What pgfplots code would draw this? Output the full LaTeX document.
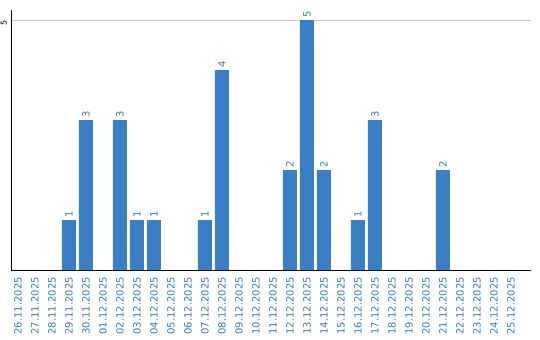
\documentclass[border=0pt]{standalone}
\usepackage{pgfplots}
\pgfplotsset{compat=1.18}
\usepackage{fontspec}
\setmainfont{DejaVu Sans}
\definecolor{barblue}{RGB}{59,126,196}
\definecolor{txtblue}{RGB}{52,120,192}
\begin{document}
\fontsize{10bp}{12bp}\selectfont
\begin{tikzpicture}
\useasboundingbox (-11bp,-70bp) rectangle (529bp,270bp);
\begin{axis}[
 at={(0,0)}, anchor=south west,
 scale only axis, width=520bp, height=260bp,
 xmin=-0.41, xmax=30.18, ymin=0, ymax=5.2,
 axis x line=bottom, axis y line=left,
 axis line style={-, black, line width=1bp},
 xtick={0,...,29},
 xticklabels={26.11.2025,27.11.2025,28.11.2025,29.11.2025,30.11.2025,01.12.2025,02.12.2025,03.12.2025,04.12.2025,05.12.2025,06.12.2025,07.12.2025,08.12.2025,09.12.2025,10.12.2025,11.12.2025,12.12.2025,13.12.2025,14.12.2025,15.12.2025,16.12.2025,17.12.2025,18.12.2025,19.12.2025,20.12.2025,21.12.2025,22.12.2025,23.12.2025,24.12.2025,25.12.2025},
 x tick label style={rotate=90, anchor=east, text=txtblue, font=\fontsize{10bp}{12bp}\selectfont, inner sep=0pt, xshift=-7bp},
 major tick length=0pt,
 ytick={5}, ymajorgrids, grid style={black!22, line width=0.8bp},
 y tick label style={rotate=90, anchor=base east, font=\fontsize{8bp}{9bp}\selectfont, inner sep=0pt, yshift=4.3bp, xshift=-0.5bp},
 /pgf/number format/assume math mode=true,
 clip=false,
]
\addplot[ybar, bar width=14bp, fill=barblue, draw=none,
  nodes near coords,
  nodes near coords style={rotate=90, anchor=west, text=txtblue, font=\fontsize{10bp}{12bp}\selectfont, inner sep=2.5bp}]
 coordinates {(3,1) (4,3) (6,3) (7,1) (8,1) (11,1) (12,4) (16,2) (17,5) (18,2) (20,1) (21,3) (25,2)};
\end{axis}
\end{tikzpicture}
\end{document}
